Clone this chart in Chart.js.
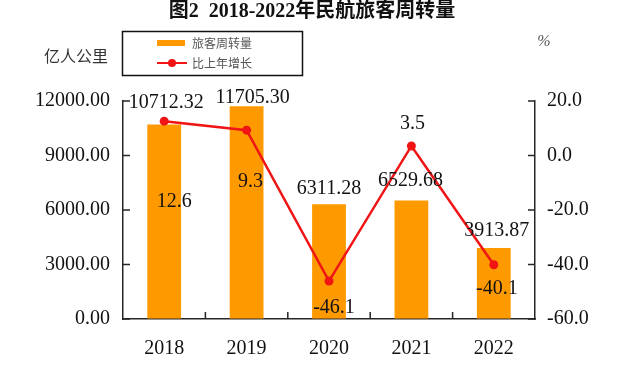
<!DOCTYPE html>
<html>
<head>
<meta charset="utf-8">
<script src="https://cdn.jsdelivr.net/npm/chart.js@4/dist/chart.umd.min.js"></script>
<style>
  html, body { margin: 0; padding: 0; background: #fff; }
</style>
</head>
<body>
<canvas id="chart" width="624" height="373"></canvas>
<script>
// chart data
const years = ['2018', '2019', '2020', '2021', '2022'];
const turnover = [10712.32, 11705.30, 6311.28, 6529.68, 3913.87];
const growth = [12.6, 9.3, -46.1, 3.5, -40.1];
const leftTicks = [0, 3000, 6000, 9000, 12000];
const rightTicks = [-60, -40, -20, 0, 20];
const titleText = '图2  2018-2022年民航旅客周转量';
const barLabel = '旅客周转量';
const lineLabel = '比上年增长';
const leftUnit = '亿人公里';
const rightUnit = '%';

const ORANGE = '#FF9900';
const RED = '#F01414';
const AXIS = '#262626';
const SERIF = "'Liberation Serif', 'Times New Roman', serif";
const CJK = "'Noto Sans CJK SC', sans-serif";

// label placement tweaks (px), per point, relative to each mark
const barLabelShift = [[2, -22], [6, -9], [0, -16], [-1, -20], [3, -17]];
const lineLabelShift = [[10, 81], [4, 52], [5, 27], [1, -22], [3, 24]];

// title, units and the boxed legend
const decorPlugin = {
  id: 'decor',
  afterDraw(chart) {
    const ctx = chart.ctx;
    ctx.save();
    ctx.textBaseline = 'middle';

    ctx.fillStyle = '#111';
    ctx.textAlign = 'center';
    ctx.font = "bold 20px " + SERIF + ", " + CJK;
    ctx.fillText(titleText, 312, 12);

    ctx.fillStyle = '#333';
    ctx.font = "16px " + CJK;
    ctx.fillText(leftUnit, 76, 56);
    ctx.fillStyle = '#555';
    ctx.font = "italic 16px " + SERIF;
    ctx.fillText(rightUnit, 544, 42);

    // legend box
    ctx.strokeStyle = '#111';
    ctx.lineWidth = 1.5;
    ctx.strokeRect(122.5, 31.5, 180, 44);
    ctx.fillStyle = ORANGE;
    ctx.fillRect(157, 40, 28, 6);
    ctx.strokeStyle = RED;
    ctx.lineWidth = 2;
    ctx.beginPath();
    ctx.moveTo(157, 63);
    ctx.lineTo(187, 63);
    ctx.stroke();
    ctx.fillStyle = RED;
    ctx.beginPath();
    ctx.arc(172, 63, 4, 0, Math.PI * 2);
    ctx.fill();
    ctx.fillStyle = '#555';
    ctx.textAlign = 'left';
    ctx.font = "12px " + CJK;
    ctx.fillText(barLabel, 192, 43);
    ctx.fillText(lineLabel, 192, 63);
    ctx.restore();
  }
};

// small inward tick marks on all three axes
const innerTicksPlugin = {
  id: 'innerTicks',
  afterDraw(chart) {
    const { ctx, chartArea, scales } = chart;
    const len = 7;
    ctx.save();
    ctx.strokeStyle = AXIS;
    ctx.lineWidth = 1.5;
    ctx.beginPath();
    scales.y.ticks.forEach(t => {
      const y = scales.y.getPixelForValue(t.value);
      ctx.moveTo(chartArea.left, y);
      ctx.lineTo(chartArea.left + len, y);
    });
    scales.y1.ticks.forEach(t => {
      const y = scales.y1.getPixelForValue(t.value);
      ctx.moveTo(chartArea.right, y);
      ctx.lineTo(chartArea.right - len, y);
    });
    for (let i = 1; i < years.length; i++) {
      const x = (scales.x.getPixelForValue(i - 1) + scales.x.getPixelForValue(i)) / 2;
      ctx.moveTo(x, chartArea.bottom);
      ctx.lineTo(x, chartArea.bottom - len);
    }
    ctx.stroke();
    ctx.restore();
  }
};

// value labels for bars and line points
const valueLabelPlugin = {
  id: 'valueLabels',
  afterDatasetsDraw(chart) {
    const ctx = chart.ctx;
    ctx.save();
    ctx.fillStyle = '#111';
    ctx.font = "20px " + SERIF;
    ctx.textAlign = 'center';
    ctx.textBaseline = 'middle';
    chart.getDatasetMeta(0).data.forEach((bar, i) => {
      const s = barLabelShift[i];
      ctx.fillText(turnover[i].toFixed(2), bar.x + s[0], bar.y + s[1]);
    });
    chart.getDatasetMeta(1).data.forEach((pt, i) => {
      const s = lineLabelShift[i];
      ctx.fillText(growth[i].toFixed(1), pt.x + s[0], pt.y + s[1]);
    });
    ctx.restore();
  }
};

const ctx = document.getElementById('chart').getContext('2d');
new Chart(ctx, {
  type: 'bar',
  data: {
    labels: years,
    datasets: [
      {
        type: 'bar',
        label: barLabel,
        data: turnover,
        backgroundColor: ORANGE,
        yAxisID: 'y',
        barPercentage: 0.41,
        categoryPercentage: 1,
        order: 2
      },
      {
        type: 'line',
        label: lineLabel,
        data: growth,
        borderColor: RED,
        backgroundColor: RED,
        borderWidth: 2.5,
        pointRadius: 4.5,
        pointBackgroundColor: RED,
        pointBorderWidth: 0,
        yAxisID: 'y1',
        tension: 0,
        order: 1
      }
    ]
  },
  options: {
    responsive: false,
    animation: false,
    layout: { padding: { top: 101, left: 0, right: 0, bottom: 0 } },
    plugins: {
      legend: { display: false },
      title: { display: false },
      tooltip: { enabled: false }
    },
    scales: {
      x: {
        grid: { display: true, drawOnChartArea: false, drawTicks: false },
        border: { color: AXIS, width: 1.5 },
        ticks: { color: '#111', font: { family: SERIF, size: 20 }, padding: 18 },
        afterFit(scale) { scale.height = 54; }
      },
      y: {
        position: 'left',
        min: leftTicks[0],
        max: leftTicks[leftTicks.length - 1],
        grid: { display: true, drawOnChartArea: false, drawTicks: false },
        border: { color: AXIS, width: 1.5 },
        ticks: {
          stepSize: leftTicks[1] - leftTicks[0],
          color: '#111',
          font: { family: SERIF, size: 20 },
          padding: 13,
          callback: v => Number(v).toFixed(2)
        },
        afterFit(scale) { scale.width = 123; }
      },
      y1: {
        position: 'right',
        min: rightTicks[0],
        max: rightTicks[rightTicks.length - 1],
        grid: { display: true, drawOnChartArea: false, drawTicks: false },
        border: { color: AXIS, width: 1.5 },
        ticks: {
          stepSize: rightTicks[1] - rightTicks[0],
          color: '#111',
          font: { family: SERIF, size: 20 },
          padding: 12,
          callback: v => Number(v).toFixed(1)
        },
        afterFit(scale) { scale.width = 89; }
      }
    }
  },
  plugins: [decorPlugin, innerTicksPlugin, valueLabelPlugin]
});
</script>
</body>
</html>
